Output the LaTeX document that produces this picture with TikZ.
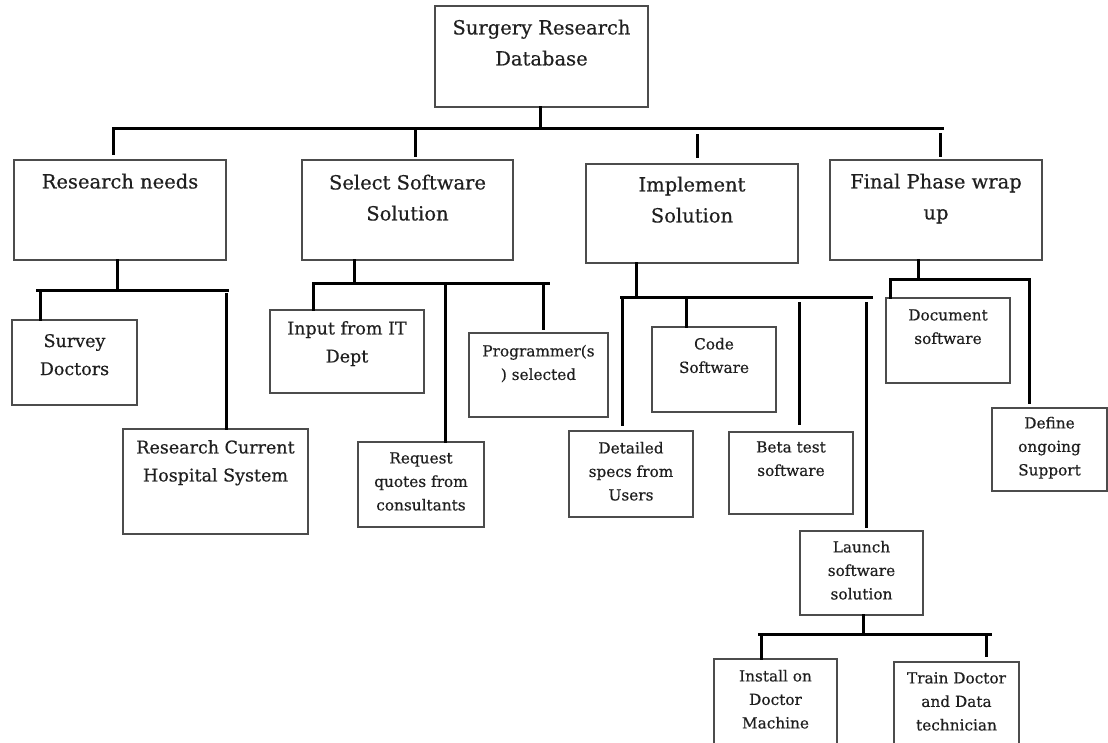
\documentclass[tikz,border=0pt]{standalone}
\usepackage{fontspec}
\setmainfont{DejaVu Serif}[FakeBold=0.5]

% box from (x1,y1) to (x2,y2), y growing downwards
\newcommand\wbsbox[5]{%
  \node[box, minimum width={#4-#2}, minimum height={#5-#3}] (#1)
    at ({(#2+#4)/2},{(#3+#5)/2}) {};}
% caption inside a box, hanging from its top edge
\newcommand\wbstext[4]{%
  \node[#1] (#2-t) at ([yshift=-#3pt]#2.north) {\strut #4};}

\begin{document}
\begin{tikzpicture}[x=1pt,y=-1pt,
  box/.style={draw=black!70, line width=1.5pt, rectangle, inner sep=0pt},
  conn/.style={draw=black, line width=3pt, line cap=rect},
  lbl/.style={anchor=north, align=center, inner sep=0pt, text=black!88},
  lblbig/.style={lbl, font=\fontsize{19.5}{31}\selectfont},
  lblmid/.style={lbl, font=\fontsize{17.5}{28}\selectfont},
  lblsmall/.style={lbl, font=\fontsize{15.3}{23.5}\selectfont},
]
\useasboundingbox (0,0) rectangle (1108,742);
\clip (0,0) rectangle (1108,742);

% ---------- boxes ----------
\wbsbox{top}{435}{6}{648}{107}
\wbsbox{rn}{14}{160}{226}{260}
\wbsbox{ss}{302}{160}{513}{260}
\wbsbox{im}{586}{164}{798}{263}
\wbsbox{fp}{830}{160}{1042}{260}
\wbsbox{sd}{12}{320}{137}{405}
\wbsbox{rc}{123}{429}{308}{534}
\wbsbox{it}{270}{310}{424}{393}
\wbsbox{rq}{358}{442}{484}{527}
\wbsbox{pg}{469}{333}{608}{417}
\wbsbox{cd}{652}{327}{776}{412}
\wbsbox{ds}{569}{431}{693}{517}
\wbsbox{bt}{729}{432}{853}{514}
\wbsbox{ln}{800}{531}{923}{615}
\wbsbox{dc}{886}{298}{1010}{383}
\wbsbox{df}{992}{408}{1107}{491}
\wbsbox{in}{714}{659}{837}{780}
\wbsbox{tr}{894}{662}{1019}{780}

% ---------- captions ----------
\wbstext{lblbig}{top}{7.3}{Surgery Research\\Database}
\wbstext{lblbig}{rn}{7.3}{Research needs}
\wbstext{lblbig}{ss}{8.3}{Select Software\\Solution}
\wbstext{lblbig}{im}{6.3}{Implement\\Solution}
\wbstext{lblbig}{fp}{7.3}{Final Phase wrap\\up}
\wbstext{lblmid}{sd}{8}{Survey\\Doctors}
\wbstext{lblmid}{rc}{5.4}{Research Current\\Hospital System}
\wbstext{lblmid}{it}{5.4}{Input from IT\\Dept}
\wbstext{lblsmall}{rq}{5.5}{Request\\quotes from\\consultants}
\wbstext{lblsmall}{pg}{7.5}{Programmer(s\\) selected}
\wbstext{lblsmall}{cd}{6.5}{Code\\Software}
\wbstext{lblsmall}{ds}{6.5}{Detailed\\specs from\\Users}
\wbstext{lblsmall}{bt}{4.5}{Beta test\\software}
\wbstext{lblsmall}{ln}{5.5}{Launch\\software\\solution}
\wbstext{lblsmall}{dc}{6.5}{Document\\software}
\wbstext{lblsmall}{df}{4.5}{Define\\ongoing\\Support}
\wbstext{lblsmall}{in}{6.5}{Install on\\Doctor\\Machine}
\wbstext{lblsmall}{tr}{5.5}{Train Doctor\\and Data\\technician}

% ---------- level 0 ----------
\coordinate (j0) at (540,128);
\coordinate (b0l) at (113,128);
\coordinate (b0r) at (942,128);
\draw[conn] (top.south -| j0) -- (j0);
\draw[conn] (b0l) -- (b0r);
\draw[conn, shorten >=6pt] (b0l) -- (b0l |- rn.north);
\coordinate (d0ss) at (415,128);
\draw[conn, shorten >=4pt] (d0ss) -- (d0ss |- ss.north);
\coordinate (d0im) at (697,128);
\draw[conn, shorten <=7pt, shorten >=7pt] (d0im) -- (d0im |- im.north);
\coordinate (d0fp) at (940,128);
\draw[conn, shorten <=6pt, shorten >=4pt] (d0fp) -- (d0fp |- fp.north);

% ---------- research needs ----------
\coordinate (j1) at (117,290);
\coordinate (b1l) at (37,290);
\coordinate (b1r) at (227,290);
\draw[conn] (rn.south -| j1) -- (j1);
\draw[conn] (b1l) -- (b1r);
\coordinate (d1sd) at (40,290);
\draw[conn] (d1sd) -- (d1sd |- sd.north);
\coordinate (d1rc) at (226,290);
\draw[conn, shorten <=4pt] (d1rc) -- (d1rc |- rc.north);

% ---------- select software solution ----------
\coordinate (j2) at (354,283);
\coordinate (b2l) at (313,283);
\coordinate (b2r) at (548,283);
\draw[conn] (ss.south -| j2) -- (j2);
\draw[conn] (b2l) -- (b2r);
\draw[conn] (b2l) -- (b2l |- it.north);
\coordinate (d2rq) at (445,283);
\draw[conn] (d2rq) -- (d2rq |- rq.north);
\coordinate (d2pg) at (543,283);
\draw[conn, shorten >=4pt] (d2pg) -- (d2pg |- pg.north);

% ---------- implement solution ----------
\coordinate (j3) at (636,297);
\coordinate (b3l) at (621,297);
\coordinate (b3r) at (871,297);
\draw[conn] (im.south -| j3) -- (j3);
\draw[conn] (b3l) -- (b3r);
\coordinate (d3ds) at (622,297);
\draw[conn, shorten >=6pt] (d3ds) -- (d3ds |- ds.north);
\coordinate (d3cd) at (686,297);
\draw[conn] (d3cd) -- (d3cd |- cd.north);
\coordinate (d3bt) at (799,297);
\draw[conn, shorten <=6pt, shorten >=8pt] (d3bt) -- (d3bt |- bt.north);
\coordinate (d3ln) at (866,297);
\draw[conn, shorten <=6pt, shorten >=4pt] (d3ln) -- (d3ln |- ln.north);

% ---------- final phase ----------
\coordinate (j4) at (918,279);
\coordinate (b4l) at (890,279);
\coordinate (b4r) at (1029,279);
\draw[conn] (fp.south -| j4) -- (j4);
\draw[conn] (b4l) -- (b4r);
\draw[conn] (b4l) -- (b4l |- dc.north);
\draw[conn, shorten >=5pt] (b4r) -- (b4r |- df.north);

% ---------- launch ----------
\coordinate (j5) at (863,634);
\coordinate (b5l) at (759,634);
\coordinate (b5r) at (990,634);
\draw[conn] (ln.south -| j5) -- (j5);
\draw[conn] (b5l) -- (b5r);
\coordinate (d5in) at (761,634);
\draw[conn] (d5in) -- (d5in |- in.north);
\coordinate (d5tr) at (986,634);
\draw[conn, shorten >=6pt] (d5tr) -- (d5tr |- tr.north);
\end{tikzpicture}
\end{document}
